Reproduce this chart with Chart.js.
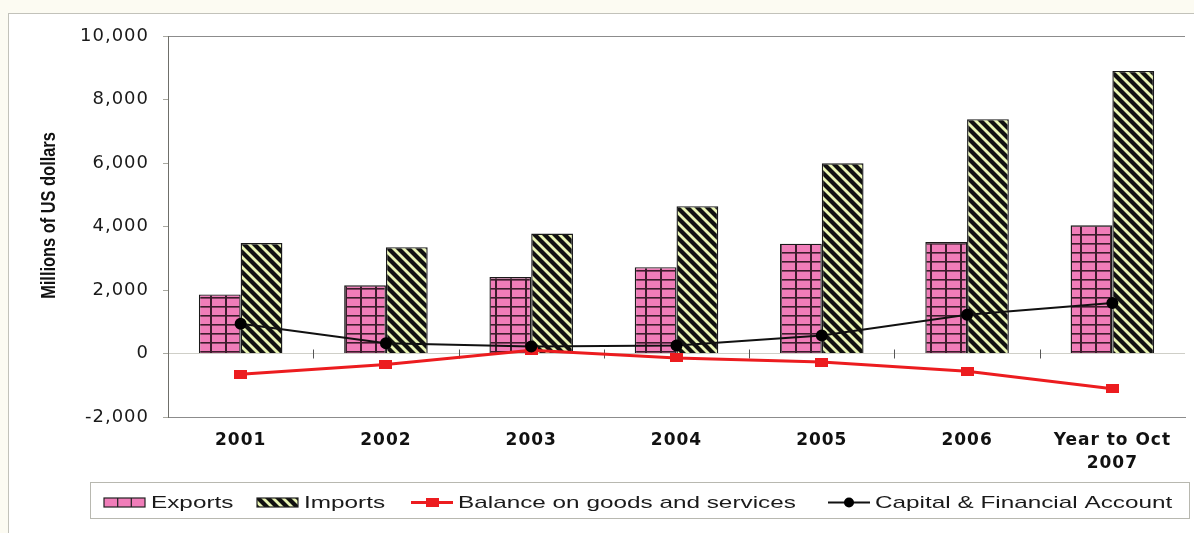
<!DOCTYPE html>
<html>
<head>
<meta charset="utf-8">
<script src="https://cdn.jsdelivr.net/npm/chart.js@4.4.1/dist/chart.umd.min.js"></script>
<style>
  html, body { margin: 0; padding: 0; background: #fff; }
  #wrap { position: relative; width: 1194px; height: 533px; overflow: hidden; background: #fcfbf2; }
  #frame { position: absolute; left: 8px; top: 13px; right: -2px; bottom: -2px;
           border-left: 1px solid #c2c2ba; border-top: 1px solid #c2c2ba; background: #fff; }
  canvas { position: absolute; left: 0; top: 0; }
</style>
</head>
<body>
<div id="wrap">
  <div id="frame"></div>
  <canvas id="chart" width="1194" height="533"></canvas>
</div>
<script>
// ===== Data (millions of US dollars) =====
const categories = ['2001', '2002', '2003', '2004', '2005', '2006', ['Year to Oct', '2007']];
const exportsValues = [1860, 2150, 2410, 2720, 3460, 3510, 4040];
const importsValues = [3480, 3350, 3780, 4640, 5990, 7380, 8900];
const balanceValues = [-650, -350, 100, -140, -270, -560, -1110];
const capitalValues = [940, 320, 220, 250, 570, 1220, 1590];
const seriesLabels = ['Exports', 'Imports', 'Balance on goods and services', 'Capital & Financial Account'];
const axisTitle = 'Millions of US dollars';

const PINK = '#f07db9';
const PINK_LINE = '#3d1c2c';
const PALE = '#e9f5b3';
const RED = '#ec1c1f';

const canvas = document.getElementById('chart');
const ctx = canvas.getContext('2d');

// pink fill with a dark grid
function gridTile() {
  const c = document.createElement('canvas');
  c.width = 15; c.height = 9;
  const g = c.getContext('2d');
  g.fillStyle = PINK;
  g.fillRect(0, 0, 15, 9);
  g.fillStyle = PINK_LINE;
  g.fillRect(0, 0, 2, 9);
  g.fillRect(0, 0, 15, 1.6);
  return c;
}

// pale fill with black diagonal stripes
function stripeTile() {
  const c = document.createElement('canvas');
  c.width = 10; c.height = 10;
  const g = c.getContext('2d');
  g.fillStyle = PALE;
  g.fillRect(0, 0, 10, 10);
  g.strokeStyle = '#111';
  g.lineWidth = 4.2;
  [-10, 0, 10].forEach(k => {
    g.beginPath();
    g.moveTo(k - 2, -2);
    g.lineTo(k + 12, 12);
    g.stroke();
  });
  return c;
}

// flat red marker, wider than tall
function redMarker() {
  const c = document.createElement('canvas');
  c.width = 13; c.height = 9;
  const g = c.getContext('2d');
  g.fillStyle = RED;
  g.fillRect(0, 0, 13, 9);
  return c;
}

const exportsFill = ctx.createPattern(gridTile(), 'repeat');
const importsFill = ctx.createPattern(stripeTile(), 'repeat');
const balanceMarker = redMarker();

// wide text like the scanned original
const spacingPlugin = {
  id: 'spacing',
  beforeUpdate(chart) { chart.ctx.letterSpacing = '1px'; },
  beforeDraw(chart) { chart.ctx.letterSpacing = '1px'; }
};

// category tick marks on the zero line
const zeroTicksPlugin = {
  id: 'zeroTicks',
  beforeDatasetsDraw(chart) {
    const sx = chart.scales.x, sy = chart.scales.y;
    const y0 = sy.getPixelForValue(0);
    const c = chart.ctx;
    c.save();
    c.strokeStyle = '#555';
    c.lineWidth = 1;
    for (let i = 0; i < categories.length - 1; i++) {
      const x = Math.round((sx.getPixelForTick(i) + sx.getPixelForTick(i + 1)) / 2) + 0.5;
      c.beginPath();
      c.moveTo(x, y0 - 4);
      c.lineTo(x, y0 + 5);
      c.stroke();
    }
    c.restore();
  }
};

// axis title and boxed legend
const framePlugin = {
  id: 'frame',
  afterDraw(chart) {
    const c = chart.ctx;
    const ds = chart.data.datasets;
    c.save();
    c.letterSpacing = '0px';

    // y axis title, condensed bold
    c.save();
    c.translate(55, 215.5);
    c.rotate(-Math.PI / 2);
    c.scale(0.82, 1);
    c.font = 'bold 20px "Liberation Sans", Arial, sans-serif';
    c.fillStyle = '#111';
    c.textAlign = 'center';
    c.textBaseline = 'alphabetic';
    c.fillText(axisTitle, 0, 0);
    c.restore();

    // legend box
    c.strokeStyle = '#b8b8b0';
    c.lineWidth = 1;
    c.strokeRect(90.5, 482.5, 1099, 36);

    const cy = 502.5;
    const starts = [104, 257, 411, 828];
    ds.forEach((d, i) => {
      const x = starts[i];
      if (d.type === 'bar') {
        c.fillStyle = i === 0 ? PINK : importsFill;
        c.fillRect(x, cy - 4.5, 41, 9);
        c.strokeStyle = '#222';
        c.lineWidth = 1.2;
        if (i === 0) {
          c.beginPath();
          c.moveTo(x + 13.7, cy - 4.5); c.lineTo(x + 13.7, cy + 4.5);
          c.moveTo(x + 27.3, cy - 4.5); c.lineTo(x + 27.3, cy + 4.5);
          c.stroke();
        }
        c.strokeRect(x, cy - 4.5, 41, 9);
      } else {
        c.strokeStyle = d.borderColor;
        c.lineWidth = d.borderWidth;
        c.beginPath();
        c.moveTo(x, cy); c.lineTo(x + 42, cy);
        c.stroke();
        if (d.pointStyle === 'circle') {
          c.fillStyle = d.pointBackgroundColor;
          c.beginPath();
          c.arc(x + 21, cy, 5, 0, Math.PI * 2);
          c.fill();
        } else {
          c.fillStyle = RED;
          c.fillRect(x + 15, cy - 4.5, 13, 9);
        }
      }
      c.save();
      c.translate(x + 47, cy + 0.5);
      c.scale(1.43, 1);
      c.font = '17px "Liberation Sans", Arial, sans-serif';
      c.fillStyle = '#1a1a1a';
      c.textBaseline = 'middle';
      c.fillText(d.label, 0, 0);
      c.restore();
    });
    c.restore();
  }
};

new Chart(ctx, {
  data: {
    labels: categories,
    datasets: [
      {
        type: 'bar',
        label: seriesLabels[0],
        data: exportsValues,
        backgroundColor: exportsFill,
        borderColor: '#1a1a1a',
        borderWidth: 1.4,
        categoryPercentage: 0.575,
        barPercentage: 1,
        order: 2
      },
      {
        type: 'bar',
        label: seriesLabels[1],
        data: importsValues,
        backgroundColor: importsFill,
        borderColor: '#1a1a1a',
        borderWidth: 1.4,
        categoryPercentage: 0.575,
        barPercentage: 1,
        order: 2
      },
      {
        type: 'line',
        label: seriesLabels[2],
        data: balanceValues,
        borderColor: RED,
        backgroundColor: RED,
        borderWidth: 3,
        tension: 0,
        pointStyle: balanceMarker,
        pointRadius: 6,
        order: 1
      },
      {
        type: 'line',
        label: seriesLabels[3],
        data: capitalValues,
        borderColor: '#111',
        backgroundColor: '#000',
        borderWidth: 2,
        tension: 0,
        pointStyle: 'circle',
        pointRadius: 5,
        pointBackgroundColor: '#000',
        pointBorderColor: '#000',
        order: 0
      }
    ]
  },
  options: {
    responsive: false,
    animation: false,
    events: [],
    layout: { padding: { top: 36, right: 0, bottom: 0, left: 0 } },
    plugins: {
      legend: { display: false },
      tooltip: { enabled: false }
    },
    scales: {
      x: {
        offset: true,
        grid: { display: false, drawTicks: false },
        border: { display: true, color: '#8c8c8c' },
        ticks: {
          color: '#111',
          font: { family: 'DejaVu Sans', size: 17, weight: 'bold', lineHeight: 1.3 },
          padding: 13,
          maxRotation: 0,
          autoSkip: false
        },
        afterFit(s) { s.height = 116; }
      },
      y: {
        min: -2000,
        max: 10000,
        ticks: {
          stepSize: 2000,
          color: '#1a1a1a',
          font: { family: 'DejaVu Sans', size: 18 },
          padding: 14,
          callback: v => v.toLocaleString('en-US')
        },
        grid: {
          color: c => c.tick && c.tick.value === 10000 ? '#8c8c8c'
                    : c.tick && c.tick.value === 0 ? '#cfcfc8' : 'rgba(0,0,0,0)',
          tickColor: '#a8a8a0',
          tickLength: 5
        },
        border: { display: true, color: '#6f6f6a' },
        afterFit(s) { s.width = 168; }
      }
    }
  },
  plugins: [spacingPlugin, zeroTicksPlugin, framePlugin]
});
</script>
</body>
</html>
